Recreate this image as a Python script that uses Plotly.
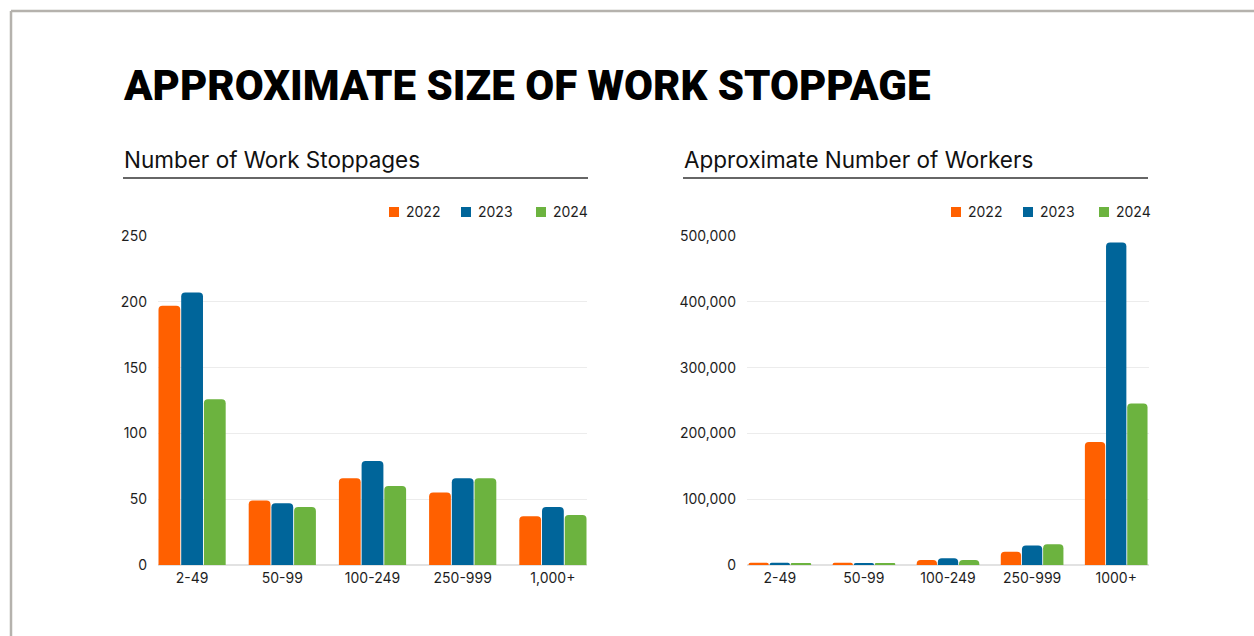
import plotly.graph_objects as go

# data
years = ["2022", "2023", "2024"]
colors = ["#FF6000", "#00659A", "#6CB33F"]

size_cats_left = ["2-49", "50-99", "100-249", "250-999", "1,000+"]
size_cats_right = ["2-49", "50-99", "100-249", "250-999", "1000+"]

stoppages_2022 = [197, 49, 66, 55, 37]
stoppages_2023 = [207, 47, 79, 66, 44]
stoppages_2024 = [126, 44, 60, 66, 38]

workers_2022 = [3500, 3300, 7600, 20300, 187000]
workers_2023 = [3600, 3200, 10200, 29500, 490000]
workers_2024 = [2300, 3000, 7600, 31500, 245500]

W, H = 1254, 636


def px_x(v):
    return v / W


def px_y(v):
    return 1 - v / H


fig = go.Figure()

for yr, col, vals in zip(years, colors, [stoppages_2022, stoppages_2023, stoppages_2024]):
    fig.add_trace(go.Bar(x=size_cats_left, y=vals, name=yr, marker_color=col,
                         marker_line_width=0, xaxis="x", yaxis="y", showlegend=False))

for yr, col, vals in zip(years, colors, [workers_2022, workers_2023, workers_2024]):
    fig.add_trace(go.Bar(x=size_cats_right, y=vals, name=yr, marker_color=col,
                         marker_line_width=0, xaxis="x2", yaxis="y2", showlegend=False))

sans = "Inter, Roboto, sans-serif"
tick_font = dict(family=sans, size=14, color="#1E1E1E")
y_dom = [px_y(565), px_y(236)]

fig.update_layout(
    width=W, height=H,
    margin=dict(l=0, r=0, t=0, b=0, pad=0, autoexpand=False),
    showlegend=False,
    paper_bgcolor="white", plot_bgcolor="white",
    barmode="group", bargap=0.245, bargroupgap=0.04, barcornerradius=4,
    font=tick_font,
    xaxis=dict(domain=[px_x(158), px_x(587)], range=[-0.378, 4.378],
               showgrid=False, showline=False, ticks="", ticklabelstandoff=3,
               tickfont=tick_font),
    yaxis=dict(domain=y_dom, range=[0, 250], tickvals=[0, 50, 100, 150, 200, 250],
               gridcolor="#ECECEC", zeroline=True, zerolinecolor="#E2E2E2",
               zerolinewidth=1.5, ticklabelstandoff=10, tickfont=tick_font),
    xaxis2=dict(domain=[px_x(747), px_x(1149)], range=[-0.39, 4.39], anchor="y2",
                showgrid=False, showline=False, ticks="", ticklabelstandoff=3,
                tickfont=tick_font),
    yaxis2=dict(domain=y_dom, range=[0, 500000], anchor="x2",
                tickvals=[0, 100000, 200000, 300000, 400000, 500000], tickformat=",",
                gridcolor="#ECECEC", zeroline=True, zerolinecolor="#E2E2E2",
                zerolinewidth=1.5, ticklabelstandoff=10, tickfont=tick_font),
)

# main title
fig.add_annotation(text="APPROXIMATE SIZE OF WORK STOPPAGE", xref="paper", yref="paper",
                   x=px_x(121), y=px_y(85), xanchor="left", yanchor="middle", showarrow=False,
                   font=dict(family="Roboto, sans-serif", size=42, color="black", weight=900))

# panel subtitles with underline
for txt, x0, x1 in [("Number of Work Stoppages", 123, 588),
                    ("Approximate Number of Workers", 683, 1148)]:
    fig.add_annotation(text=txt, xref="paper", yref="paper", x=px_x(x0 - 1), y=px_y(160),
                       xanchor="left", yanchor="middle", showarrow=False,
                       font=dict(family=sans, size=22.5, color="#111"))
    fig.add_shape(type="line", xref="paper", yref="paper", x0=px_x(x0), x1=px_x(x1),
                  y0=px_y(178), y1=px_y(178), line=dict(color="#333", width=1.5))

# legend boxes drawn by hand (square, then year), one row per panel
legend_left = [389, 461, 536]
legend_right = [951, 1023, 1099]
for starts in (legend_left, legend_right):
    for yr, col, sx in zip(years, colors, starts):
        fig.add_shape(type="rect", xref="paper", yref="paper", x0=px_x(sx), x1=px_x(sx + 10),
                      y0=px_y(217), y1=px_y(207), fillcolor=col, line_width=0)
        fig.add_annotation(text=yr, xref="paper", yref="paper", x=px_x(sx + 15), y=px_y(212),
                           xanchor="left", yanchor="middle", showarrow=False,
                           font=dict(family=sans, size=14, color="#1E1E1E"))

# slide frame
fig.add_shape(type="line", xref="paper", yref="paper", x0=px_x(11), x1=1,
              y0=px_y(11), y1=px_y(11), line=dict(color="#B5B2AD", width=2.5))
fig.add_shape(type="line", xref="paper", yref="paper", x0=px_x(11), x1=px_x(11),
              y0=px_y(11), y1=0, line=dict(color="#B5B2AD", width=2.5))

fig.write_html("out.html", config={"displayModeBar": False},
               post_script="document.body.style.margin='0';"
                           "document.documentElement.style.overflow='hidden';")
